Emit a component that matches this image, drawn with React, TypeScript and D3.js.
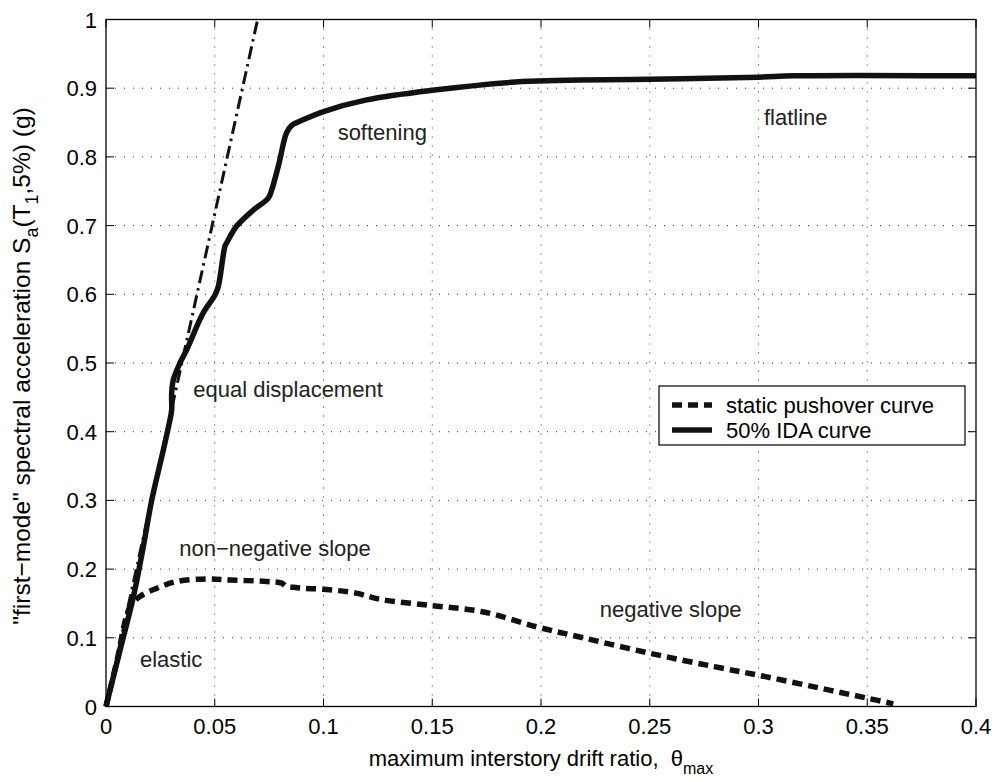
import React from "react";
import * as d3 from "d3";

// ---------- data ----------
const xTickValues = [0, 0.05, 0.1, 0.15, 0.2, 0.25, 0.3, 0.35, 0.4];
const xTickLabels = ["0", "0.05", "0.1", "0.15", "0.2", "0.25", "0.3", "0.35", "0.4"];
const yTickValues = [0, 0.1, 0.2, 0.3, 0.4, 0.5, 0.6, 0.7, 0.8, 0.9, 1];
const yTickLabels = ["0", "0.1", "0.2", "0.3", "0.4", "0.5", "0.6", "0.7", "0.8", "0.9", "1"];

// 50% IDA curve [drift, Sa]
const idaDrift = [0, 0.0063, 0.0126, 0.017, 0.021, 0.0264, 0.0294, 0.0302, 0.0302, 0.031, 0.034, 0.0371, 0.0417, 0.0447, 0.0501, 0.0516, 0.0547, 0.0555, 0.06, 0.0675, 0.0746, 0.0762, 0.0795, 0.083, 0.0854, 0.0892, 0.1, 0.1198, 0.15, 0.1913, 0.25, 0.3, 0.3163, 0.4];
const idaSa = [0, 0.08, 0.16, 0.23, 0.3, 0.374, 0.417, 0.432, 0.456, 0.476, 0.5, 0.519, 0.553, 0.573, 0.599, 0.611, 0.67, 0.675, 0.699, 0.722, 0.74, 0.752, 0.79, 0.835, 0.846, 0.852, 0.866, 0.883, 0.897, 0.9096, 0.913, 0.916, 0.918, 0.918];

// static pushover curve [drift, Sa]
const poDrift = [0, 0.005, 0.011, 0.0156, 0.0233, 0.0325, 0.0463, 0.057, 0.0739, 0.0808, 0.083, 0.0865, 0.0908, 0.0999, 0.115, 0.126, 0.1495, 0.173, 0.198, 0.22, 0.2508, 0.2797, 0.3032, 0.3285, 0.35, 0.362];
const poSa = [0, 0.066, 0.145, 0.16, 0.172, 0.182, 0.1857, 0.184, 0.182, 0.1795, 0.1745, 0.1735, 0.172, 0.1707, 0.165, 0.156, 0.147, 0.138, 0.116, 0.0995, 0.077, 0.058, 0.0435, 0.0266, 0.0121, 0.0039];

// elastic (equal displacement) line
const elasticDrift = [0, 0.0695];
const elasticSa = [0, 0.997];

const annotTexts = ["softening", "flatline", "equal displacement", "non\u2212negative slope", "elastic", "negative slope"];
const annotDrift = [0.1065, 0.3025, 0.0401, 0.0337, 0.0156, 0.227];
const annotSa = [0.825, 0.847, 0.45, 0.219, 0.057, 0.131];

const legendLabels = ["static pushover curve", "50% IDA curve"];

// ---------- layout ----------
const W = 998;
const H = 782;
const L = 106;
const R = 976;
const T = 19.5;
const B = 706.5;
const FONT = "'Liberation Sans', Arial, Helvetica, sans-serif";
const FS = 22;

export default function App() {
  const x = d3.scaleLinear().domain([0, 0.4]).range([L, R]);
  const y = d3.scaleLinear().domain([0, 1]).range([B, T]);

  const line = d3
    .line<[number, number]>()
    .x((d) => x(d[0]))
    .y((d) => y(d[1]))
    .curve(d3.curveCatmullRom.alpha(0.5));

  const ida = line(idaDrift.map((d, i) => [d, idaSa[i]]) as [number, number][]) || "";
  const po = line(poDrift.map((d, i) => [d, poSa[i]]) as [number, number][]) || "";
  const el =
    d3
      .line<[number, number]>()
      .x((d) => x(d[0]))
      .y((d) => y(d[1]))(elasticDrift.map((d, i) => [d, elasticSa[i]]) as [number, number][]) || "";

  const tickLen = 8;
  const legX = 659;
  const legW = 306;
  const legTop = 386;
  const legH = 59;
  const row1 = 405;
  const row2 = 430;

  return (
    <svg width={W} height={H} style={{ position: "absolute", left: 0, top: 0, background: "#fff" }} fontFamily={FONT}>
      <rect x={0} y={0} width={W} height={H} fill="#fff" />
      {/* grid */}
      <g stroke="#333" strokeWidth={1} strokeDasharray="1,8">
        {xTickValues.slice(1, -1).map((v, i) => (
          <line key={"gx" + i} x1={x(v)} x2={x(v)} y1={T} y2={B} />
        ))}
        {yTickValues.slice(1, -1).map((v, i) => (
          <line key={"gy" + i} x1={L} x2={R} y1={y(v)} y2={y(v)} />
        ))}
      </g>
      {/* ticks */}
      <g stroke="#000" strokeWidth={1}>
        {xTickValues.map((v, i) => (
          <g key={"tx" + i}>
            <line x1={x(v)} x2={x(v)} y1={B} y2={B - tickLen} />
            <line x1={x(v)} x2={x(v)} y1={T} y2={T + tickLen} />
          </g>
        ))}
        {yTickValues.map((v, i) => (
          <g key={"ty" + i}>
            <line x1={L} x2={L + tickLen} y1={y(v)} y2={y(v)} />
            <line x1={R} x2={R - tickLen} y1={y(v)} y2={y(v)} />
          </g>
        ))}
      </g>
      {/* tick labels */}
      <g fontSize={FS} fill="#000">
        {xTickValues.map((v, i) => (
          <text key={"lx" + i} x={x(v)} y={B + 27} textAnchor="middle">
            {xTickLabels[i]}
          </text>
        ))}
        {yTickValues.map((v, i) => (
          <text key={"ly" + i} x={L - 9} y={y(v) + 8} textAnchor="end">
            {yTickLabels[i]}
          </text>
        ))}
      </g>
      {/* curves */}
      <path d={el} fill="none" stroke="#111" strokeWidth={3} strokeDasharray="13,5,2.5,5" />
      <path d={po} fill="none" stroke="#111" strokeWidth={5.5} strokeDasharray="10,6" />
      <path d={ida} fill="none" stroke="#111" strokeWidth={5.5} strokeLinejoin="round" />
      {/* annotations */}
      <g fontSize={FS} fill="#222">
        {annotTexts.map((t, i) => (
          <text key={"an" + i} x={x(annotDrift[i])} y={y(annotSa[i])}>
            {t}
          </text>
        ))}
      </g>
      {/* legend */}
      <rect x={legX} y={legTop} width={legW} height={legH} fill="#fff" stroke="#000" strokeWidth={1.2} />
      <line x1={legX + 13} x2={legX + 53} y1={row1} y2={row1} stroke="#111" strokeWidth={5.5} strokeDasharray="10,6" />
      <line x1={legX + 13} x2={legX + 53} y1={row2} y2={row2} stroke="#111" strokeWidth={5.5} />
      <g fontSize={FS} fill="#000">
        <text x={legX + 67} y={row1 + 8}>{legendLabels[0]}</text>
        <text x={legX + 67} y={row2 + 8}>{legendLabels[1]}</text>
      </g>
      {/* axes box */}
      <rect x={L} y={T} width={R - L} height={B - T} fill="none" stroke="#000" strokeWidth={1.3} />
      {/* axis labels */}
      <text x={(L + R) / 2} y={766} textAnchor="middle" fontSize={FS} fill="#000" style={{ whiteSpace: "pre" }}>
        {"maximum interstory drift ratio,  \u03b8"}
        <tspan fontSize={16} dy={8}>max</tspan>
      </text>
      <text
        transform={`translate(30, ${(T + B) / 2 + 3}) rotate(-90)`}
        textAnchor="middle"
        fontSize={24.5}
        fill="#000"
      >
        {"\"first\u2212mode\" spectral acceleration S"}
        <tspan fontSize={18} dy={8}>a</tspan>
        <tspan dy={-8}>(T</tspan>
        <tspan fontSize={18} dy={8}>1</tspan>
        <tspan dy={-8}>,5%) (g)</tspan>
      </text>
    </svg>
  );
}
